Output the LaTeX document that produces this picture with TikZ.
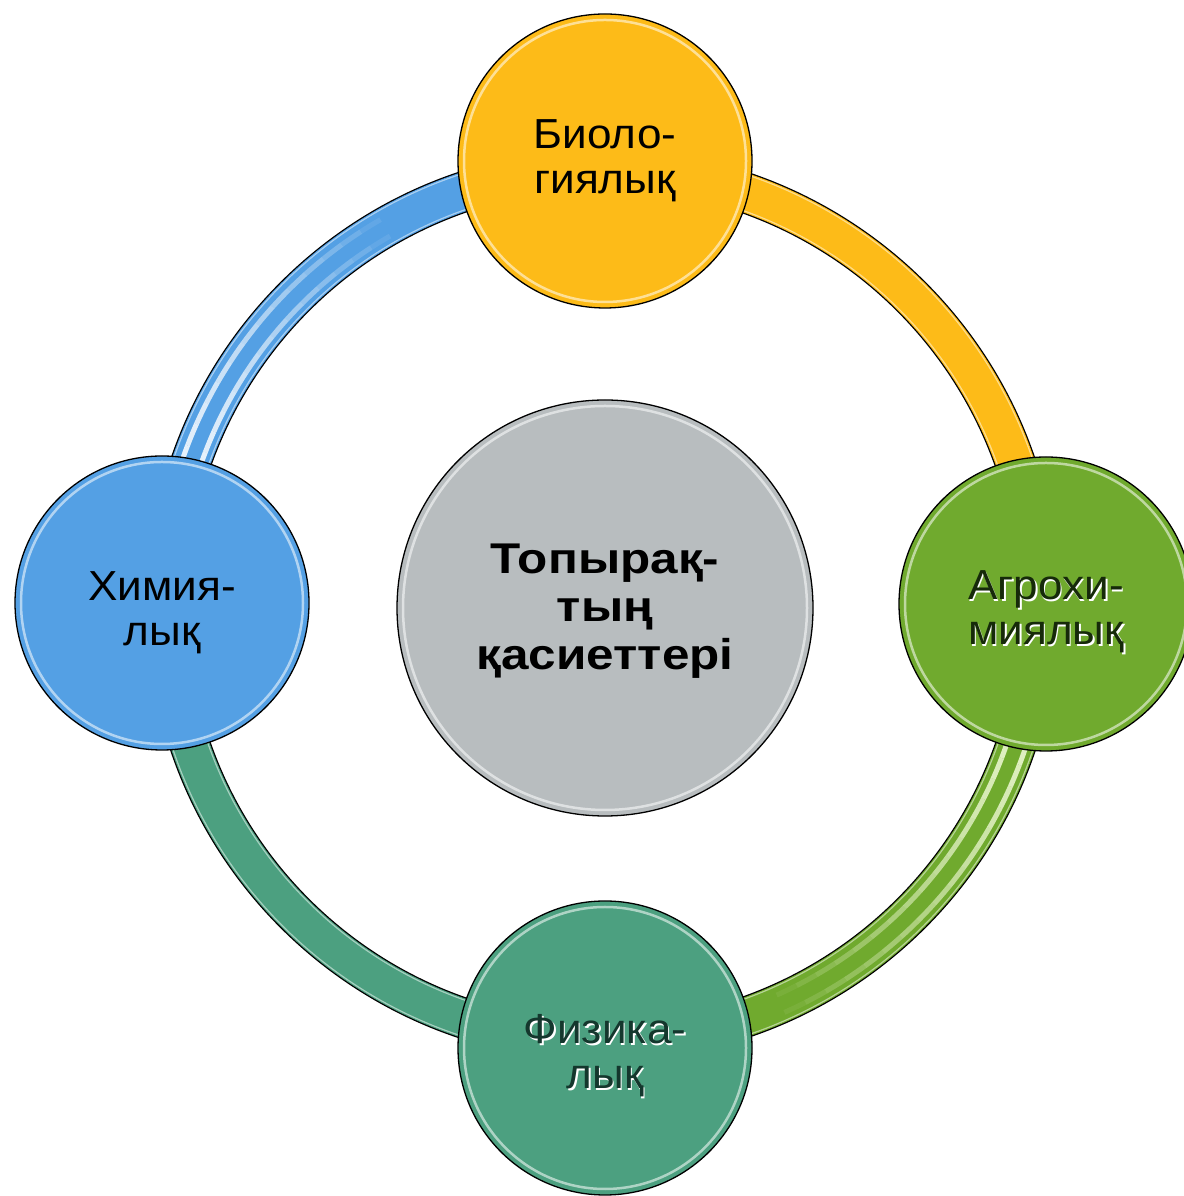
\documentclass[tikz,border=0pt]{standalone}
\usepackage{fontspec}
\setmainfont{Liberation Sans}
\newfontfamily\outerfont[FakeStretch=1.05]{Liberation Sans}
\newfontfamily\hubfont[FakeStretch=1.15]{Liberation Sans Bold}
\definecolor{cyellow}{RGB}{253,187,24}
\definecolor{cgreen}{RGB}{112,170,46}
\definecolor{cteal}{RGB}{76,160,128}
\definecolor{cblue}{RGB}{84,160,228}
\definecolor{cgray}{RGB}{184,189,191}
\definecolor{stripeG}{RGB}{240,250,215}
\tikzset{
  bub/.style={circle, draw=black, line width=1.3pt, minimum size=294pt, inner sep=0pt},
  hub/.style={circle, draw=black, line width=1.3pt, minimum size=416pt, inner sep=0pt, fill=cgray},
  lbl/.style={align=center, font=\outerfont\fontsize{42}{45}\selectfont, inner sep=0pt},
  hublbl/.style={align=center, font=\hubfont\fontsize{43}{48}\selectfont, inner sep=0pt},
  ringborder/.style={line width=41pt, draw=black},
  ringfill/.style={line width=38.4pt},
  shine/.style={draw=white, line width=2.5pt, opacity=0.55}
}
\begin{document}
\begin{tikzpicture}[x=1pt,y=1pt]
\useasboundingbox (0,0) rectangle (1183,1196);
\coordinate (C) at (603,591);
% ring arcs
\foreach \s/\e/\col in {180/90/cblue, 90/0/cyellow, 0/-90/cgreen, -90/-180/cteal}{
  \draw[ringborder] ([shift={(\s:436)}]C) arc[start angle=\s, end angle=\e, radius=436];
}
\foreach \s/\e/\col in {180/90/cblue, 90/0/cyellow, 0/-90/cgreen, -90/-180/cteal}{
  \draw[ringfill, draw=\col] ([shift={(\s:436)}]C) arc[start angle=\s, end angle=\e, radius=436];
  \draw[white, line width=1.2pt, opacity=0.5] ([shift={(\s:453.5)}]C) arc[start angle=\s, end angle=\e, radius=453.5];
  \draw[white, line width=1.2pt, opacity=0.5] ([shift={(\s:418.5)}]C) arc[start angle=\s, end angle=\e, radius=418.5];
}
% glossy stripes on blue and green arcs
\foreach \i [evaluate=\i as \op using {max(0,0.9-0.9*(\i/16)^1.5)}, evaluate=\i as \sa using 168-3*\i] in {0,...,16}{
  \draw[white, line width=5pt, opacity=\op] ([shift={(\sa:445)}]C) arc[start angle=\sa, end angle=\sa-3, radius=445];
  \draw[white, line width=5pt, opacity=\op] ([shift={(\sa:426)}]C) arc[start angle=\sa, end angle=\sa-3, radius=426];
}
\foreach \i [evaluate=\i as \op using {max(0,0.9-0.9*(\i/18)^1.5)}, evaluate=\i as \sa using -12-3*\i] in {0,...,18}{
  \draw[stripeG, line width=5pt, opacity=\op] ([shift={(\sa:446)}]C) arc[start angle=\sa, end angle=\sa-3, radius=446];
  \draw[stripeG, line width=5pt, opacity=\op] ([shift={(\sa:427)}]C) arc[start angle=\sa, end angle=\sa-3, radius=427];
}
% nodes
\node[bub, fill=cyellow] (bio) at (605,1035) {};
\node[bub, fill=cgreen] (agro) at (1046,592) {};
\node[bub, fill=cteal] (phys) at (605,148) {};
\node[bub, fill=cblue] (chem) at (162,593) {};
\node[hub] (soil) at (605,588) {};
% inner gloss rings
\foreach \n in {bio,agro,phys,chem}{
  \draw[shine] (\n.center) circle[radius=141];
}
\draw[shine] (soil.center) circle[radius=202];
% texts
\node[lbl] (tbio) at ([yshift=0]bio.center) {Биоло-\\гиялық};
\node[lbl] (tchem) at ([yshift=-10]chem.center) {Химия-\\лық};
\node[lbl, text=white] at ([shift={(1.6,-9.6)}]agro.center) {Агрохи-\\миялық};
\node[lbl, text={rgb,255:red,22;green,42;blue,10}] (tagro) at ([yshift=-8]agro.center) {Агрохи-\\миялық};
\node[lbl, text=white] at ([shift={(1.6,-9.6)}]phys.center) {Физика-\\лық};
\node[lbl, text={rgb,255:red,20;green,55;blue,45}] (tphys) at ([yshift=-8]phys.center) {Физика-\\лық};
\node[hublbl] (tsoil) at ([yshift=-3]soil.center) {Топырақ-\\тың\\қасиеттері};
\end{tikzpicture}
\end{document}
